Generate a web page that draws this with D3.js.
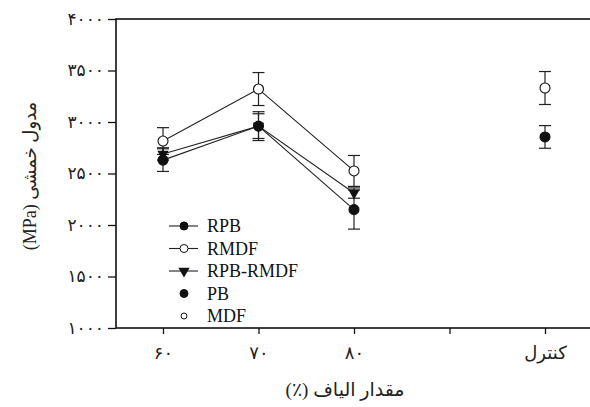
<!DOCTYPE html>
<html>
<head>
<meta charset="utf-8">
<script src="https://cdn.jsdelivr.net/npm/d3@7"></script>
<style>
  body { margin: 0; background: #fff; }
  svg { display: block; }
</style>
</head>
<body>
<svg id="chart" width="590" height="407"></svg>
<script>
// categories on the x axis ("gap" is the unlabeled tick)
const categories = ["60", "70", "80", "gap", "control"];
const xTickLabels = ["۶۰", "۷۰", "۸۰", "", "کنترل"];
const yTicks = [1000, 1500, 2000, 2500, 3000, 3500, 4000];

// series (mean, error)
const fiberLevels = ["60", "70", "80"];
const rpb = [2630, 2960, 2150];
const rpbErr = [110, 140, 190];
const rmdf = [2815, 3320, 2525];
const rmdfErr = [130, 160, 150];
const rpbRmdf = [2690, 2960, 2310];
const rpbRmdfErr = [60, 120, 50];
const pbControl = [2855];
const pbControlErr = [110];
const mdfControl = [3330];
const mdfControlErr = [160];

const legendNames = ["RPB", "RMDF", "RPB-RMDF", "PB", "MDF"];

const toFa = s => String(s).replace(/\d/g, d => "۰۱۲۳۴۵۶۷۸۹"[d]);

const svg = d3.select("#chart");
const plotLeft = 116, plotTop = 19, plotBottom = 328;
const faFont = "'Liberation Serif', 'DejaVu Sans', serif";

const x = d3.scalePoint().domain(categories).range([163, 545]);
const y = d3.scaleLinear().domain([1000, 4000]).range([plotBottom, plotTop]);

// frame (runs off the right edge)
svg.append("rect")
    .attr("x", plotLeft).attr("y", plotTop)
    .attr("width", 520).attr("height", plotBottom - plotTop)
    .attr("fill", "none").attr("stroke", "#111").attr("stroke-width", 1.6);

// y axis
const yAxis = svg.append("g")
    .attr("transform", "translate(" + plotLeft + ",0)")
    .call(d3.axisLeft(y).tickValues(yTicks).tickSize(8).tickPadding(4)
        .tickFormat(d => toFa(d)));
yAxis.select(".domain").remove();
yAxis.selectAll("line").attr("stroke", "#111").attr("stroke-width", 1.3);
yAxis.selectAll("text")
    .style("font-family", faFont)
    .style("font-size", "17px")
    .attr("fill", "#222");

// x axis
const xAxis = svg.append("g")
    .attr("transform", "translate(0," + plotBottom + ")")
    .call(d3.axisBottom(x).tickSize(6).tickPadding(12)
        .tickFormat((d, i) => xTickLabels[i]));
xAxis.select(".domain").remove();
xAxis.selectAll("line").attr("stroke", "#111").attr("stroke-width", 1.3);
xAxis.selectAll("text")
    .style("font-family", faFont)
    .style("font-size", "18px")
    .attr("fill", "#222");

// axis titles
svg.append("text")
    .attr("x", 345).attr("y", 396)
    .attr("text-anchor", "middle")
    .attr("direction", "rtl")
    .style("font-family", faFont)
    .style("font-size", "19px")
    .attr("fill", "#222")
    .text("مقدار الیاف (٪)");

svg.append("text")
    .attr("transform", "translate(36,176) rotate(-90)")
    .attr("text-anchor", "middle")
    .attr("direction", "rtl")
    .style("font-family", faFont)
    .style("font-size", "18px")
    .attr("fill", "#222")
    .text("مدول خمشی (MPa)");

const tri = d3.symbol().type(d3.symbolTriangle).size(55);

function errorBars(cats, vals, errs) {
    cats.forEach(function(c, i) {
        const cx = x(c);
        const g = svg.append("g").attr("stroke", "#222").attr("stroke-width", 1.2);
        g.append("line").attr("x1", cx).attr("x2", cx)
            .attr("y1", y(vals[i] + errs[i])).attr("y2", y(vals[i] - errs[i]));
        [vals[i] + errs[i], vals[i] - errs[i]].forEach(function(v) {
            g.append("line").attr("x1", cx - 6).attr("x2", cx + 6)
                .attr("y1", y(v)).attr("y2", y(v));
        });
    });
}

function drawLine(vals) {
    svg.append("path")
        .datum(vals)
        .attr("fill", "none")
        .attr("stroke", "#222")
        .attr("stroke-width", 1.1)
        .attr("d", d3.line().x((d, i) => x(fiberLevels[i])).y(d => y(d)));
}

function drawMarkers(cats, vals, kind, r) {
    cats.forEach(function(c, i) {
        if (kind === "tri") {
            svg.append("path")
                .attr("d", tri)
                .attr("transform", "translate(" + x(c) + "," + y(vals[i]) + ") rotate(180)")
                .attr("fill", "#111");
        } else {
            svg.append("circle")
                .attr("cx", x(c)).attr("cy", y(vals[i])).attr("r", r)
                .attr("fill", kind === "open" ? "#fff" : "#111")
                .attr("stroke", "#111").attr("stroke-width", 1.1);
        }
    });
}

errorBars(fiberLevels, rmdf, rmdfErr);
errorBars(fiberLevels, rpbRmdf, rpbRmdfErr);
errorBars(fiberLevels, rpb, rpbErr);
errorBars(["control"], mdfControl, mdfControlErr);
errorBars(["control"], pbControl, pbControlErr);

drawLine(rmdf);
drawLine(rpbRmdf);
drawLine(rpb);

drawMarkers(fiberLevels, rmdf, "open", 5);
drawMarkers(fiberLevels, rpbRmdf, "tri", 0);
drawMarkers(fiberLevels, rpb, "filled", 5);
drawMarkers(["control"], mdfControl, "open", 5);
drawMarkers(["control"], pbControl, "filled", 5);

// legend
const legend = svg.append("g");
const legendKinds = ["filled", "open", "tri", "filled", "open"];
const legendHasLine = [true, true, true, false, false];
legendNames.forEach(function(name, i) {
    const ly = 226 + i * 22.5;
    if (legendHasLine[i]) {
        legend.append("line").attr("x1", 169).attr("x2", 198)
            .attr("y1", ly).attr("y2", ly)
            .attr("stroke", "#222").attr("stroke-width", 1.1);
    }
    if (legendKinds[i] === "tri") {
        legend.append("path").attr("d", tri)
            .attr("transform", "translate(184," + ly + ") rotate(180)")
            .attr("fill", "#111");
    } else {
        legend.append("circle").attr("cx", 184).attr("cy", ly)
            .attr("r", legendHasLine[i] ? 4 : (legendKinds[i] === "open" ? 3 : 4))
            .attr("fill", legendKinds[i] === "open" ? "#fff" : "#111")
            .attr("stroke", "#111").attr("stroke-width", 1);
    }
    legend.append("text")
        .attr("x", 207).attr("y", ly + 6)
        .style("font-family", "Liberation Serif")
        .style("font-size", "18px")
        .attr("fill", "#111")
        .text(name);
});
</script>
</body>
</html>
